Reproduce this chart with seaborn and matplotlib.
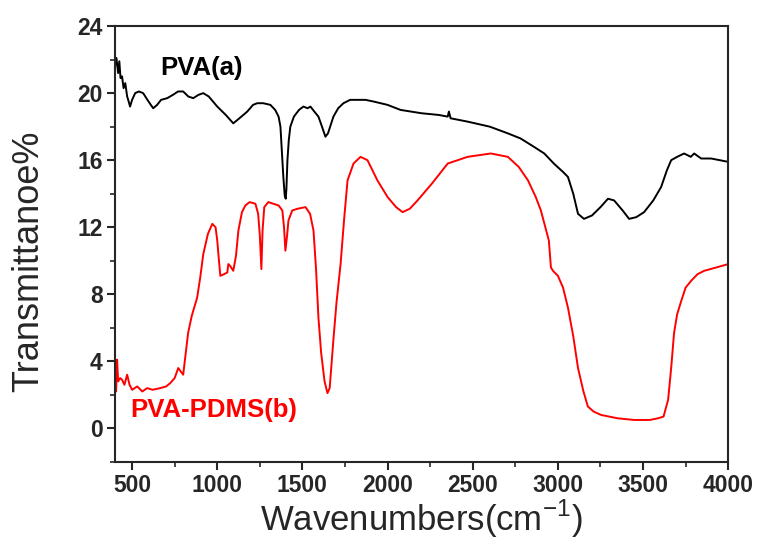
import seaborn as sns
import matplotlib
matplotlib.use("Agg")
import matplotlib.pyplot as plt
from matplotlib.ticker import MultipleLocator, AutoMinorLocator
import pandas as pd

# PVA(a) spectrum
pva_wn = [400, 408, 418, 425, 432, 441, 450, 460, 471, 480, 488, 500, 518, 540, 565,
          590, 610, 624, 647, 670, 706, 740, 770, 800, 830, 859, 890, 918, 950, 1000,
          1050, 1094, 1130, 1176, 1210, 1235, 1270, 1312, 1340, 1360, 1371, 1380, 1388,
          1396, 1402, 1406, 1412, 1420, 1429, 1450, 1480, 1506, 1530, 1547, 1570, 1594,
          1615, 1635, 1650, 1682, 1710, 1741, 1780, 1823, 1870, 1918, 2000, 2076, 2200,
          2300, 2353, 2360, 2370, 2470, 2600, 2706, 2780, 2859, 2920, 2976, 3030, 3059,
          3090, 3118, 3153, 3200, 3250, 3294, 3330, 3380, 3418, 3460, 3506, 3560, 3606,
          3640, 3665, 3700, 3741, 3780, 3800, 3841, 3900, 3950, 4000]
pva_t = [21.6, 22.1, 21.2, 21.9, 20.9, 21.0, 20.3, 20.6, 19.8, 19.5, 19.2, 19.6, 20.0, 20.1, 20.0,
         19.6, 19.3, 19.1, 19.3, 19.6, 19.7, 19.9, 20.1, 20.1, 19.8, 19.7, 19.9, 20.0, 19.8, 19.2,
         18.7, 18.2, 18.5, 18.9, 19.3, 19.4, 19.4, 19.3, 19.0, 18.6, 18.0, 16.4, 15.0,
         13.9, 13.7, 14.3, 16.0, 17.2, 18.0, 18.6, 19.0, 19.2, 19.1, 19.2, 18.9, 18.6,
         18.0, 17.4, 17.6, 18.6, 19.1, 19.4, 19.6, 19.6, 19.6, 19.5, 19.3, 19.0, 18.8,
         18.7, 18.6, 18.9, 18.5, 18.3, 18.0, 17.6, 17.3, 16.8, 16.4, 15.8, 15.3, 15.0,
         14.0, 12.8, 12.5, 12.7, 13.2, 13.7, 13.6, 13.0, 12.5, 12.6, 12.9, 13.6, 14.4,
         15.4, 16.0, 16.2, 16.4, 16.2, 16.4, 16.1, 16.1, 16.0, 15.9]

# PVA-PDMS(b) spectrum
pdms_wn = [400, 406, 412, 418, 430, 441, 455, 471, 485, 500, 530, 560, 588, 620, 665,
           700, 724, 750, 771, 785, 800, 815, 829, 850, 882, 900, 918, 945, 971, 990,
           1000, 1010, 1018, 1040, 1059, 1065, 1075, 1094, 1110, 1124, 1145, 1165, 1190,
           1224, 1240, 1250, 1259, 1266, 1276, 1300, 1329, 1360, 1382, 1392, 1400, 1410,
           1418, 1440, 1471, 1518, 1545, 1565, 1580, 1594, 1610, 1630, 1647, 1660, 1682,
           1700, 1724, 1745, 1765, 1800, 1841, 1882, 1940, 2000, 2050, 2088, 2130, 2176,
           2260, 2353, 2470, 2606, 2706, 2770, 2824, 2870, 2900, 2947, 2959, 2971, 3000,
           3030, 3059, 3090, 3118, 3150, 3176, 3210, 3253, 3350, 3447, 3540, 3588, 3620,
           3647, 3665, 3682, 3700, 3724, 3750, 3782, 3820, 3859, 3930, 4000]
pdms_t = [3.0, 2.2, 4.1, 2.8, 3.0, 2.9, 2.6, 3.2, 2.6, 2.3, 2.5, 2.2, 2.4, 2.3, 2.4,
          2.5, 2.7, 3.0, 3.6, 3.4, 3.2, 4.5, 5.7, 6.7, 7.8, 9.0, 10.4, 11.6, 12.2, 12.0,
          11.2, 10.0, 9.1, 9.2, 9.3, 9.8, 9.7, 9.4, 10.3, 11.8, 12.9, 13.3, 13.5,
          13.4, 12.8, 11.5, 9.5, 11.8, 13.2, 13.5, 13.4, 13.3, 13.0, 12.0, 10.6, 11.5,
          12.4, 13.0, 13.1, 13.2, 12.8, 11.8, 9.5, 6.6, 4.5, 2.8, 2.1, 2.4, 5.3,
          7.5, 9.8, 12.5, 14.8, 15.8, 16.2, 16.0, 14.8, 13.8, 13.2, 12.9, 13.1, 13.6,
          14.6, 15.8, 16.2, 16.4, 16.2, 15.6, 14.8, 13.8, 13.0, 11.2, 9.6, 9.4, 9.1,
          8.4, 7.2, 5.5, 3.6, 2.2, 1.3, 1.0, 0.8, 0.6, 0.5, 0.5, 0.6, 0.7,
          1.7, 3.6, 5.7, 6.8, 7.6, 8.4, 8.8, 9.2, 9.4, 9.6, 9.8]

sns.set_style("ticks")
plt.rcParams['font.family'] = ['Liberation Sans', 'DejaVu Sans']
plt.rcParams['mathtext.fontset'] = 'custom'
plt.rcParams['mathtext.rm'] = 'Liberation Sans'

fig = plt.figure(figsize=(7.57, 5.44), dpi=100)
ax = fig.add_axes([0.152, 0.151, 0.810, 0.801])

df_a = pd.DataFrame({'wn': pva_wn, 'T': pva_t})
df_b = pd.DataFrame({'wn': pdms_wn, 'T': pdms_t})
sns.lineplot(data=df_a, x='wn', y='T', ax=ax, color='black', lw=1.4, sort=False, estimator=None)
sns.lineplot(data=df_b, x='wn', y='T', ax=ax, color='#ff0000', lw=1.4, sort=False, estimator=None)

ax.set_xlim(400, 4000)
ax.set_ylim(-2, 24)
ax.xaxis.set_major_locator(MultipleLocator(500))
ax.xaxis.set_minor_locator(AutoMinorLocator(2))
ax.yaxis.set_major_locator(MultipleLocator(4))
ax.yaxis.set_minor_locator(AutoMinorLocator(2))
ax.tick_params(which='major', direction='out', length=6, width=1.5, labelsize=16.5, pad=3)
ax.tick_params(which='minor', direction='out', length=3.5, width=1.2)
for lab in ax.get_xticklabels() + ax.get_yticklabels():
    lab.set_fontweight('bold')
for sp in ax.spines.values():
    sp.set_linewidth(1.5)
    sp.set_visible(True)

ax.set_xlabel('Wavenumbers(cm$^{-1}$)', fontsize=25, labelpad=0)
ax.set_ylabel('Transmittanoe%', fontsize=26)
ax.yaxis.set_label_coords(-0.112, 0.46)

ax.text(665, 21.5, 'PVA(a)', fontsize=18.5, fontweight='bold', color='black', va='center')
ax.text(488, 1.1, 'PVA-PDMS(b)', fontsize=18.5, fontweight='bold', color='#ff0000', va='center')

fig.savefig('out.png', dpi=100)
